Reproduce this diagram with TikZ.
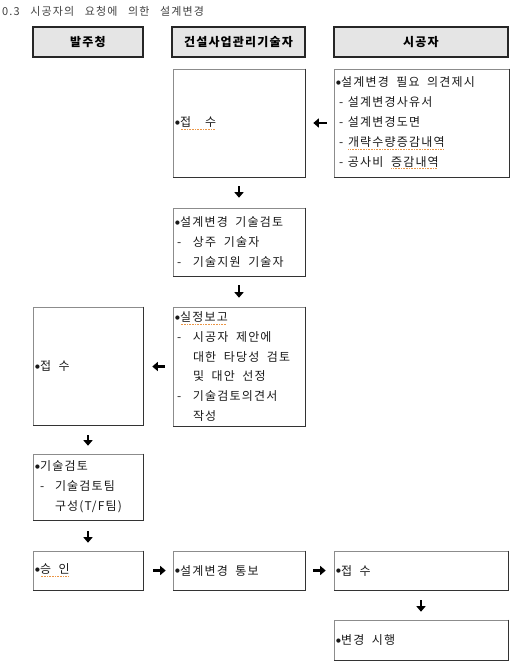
\documentclass[tikz,border=0pt]{standalone}
\usepackage{fontspec}
\usetikzlibrary{arrows.meta}
\newfontfamily\kr[WordSpace=3,LetterSpace=10]{Noto Sans CJK KR}
\newfontfamily\dv{DejaVu Sans}
\definecolor{sqc}{RGB}{235,150,70}
\newcommand\boxfont{\kr\fontsize{12}{19.8}\selectfont}
\newcommand\ws{\hspace{7.5pt}}
\newcommand\bu{\raisebox{2.2pt}{\dv\fontsize{5.5}{6}\selectfont●}\kern0.3pt}
\newcommand\sq[1]{\setbox0\hbox{#1}\rlap{\raisebox{-3pt}{\textcolor{sqc}{\leaders\hbox to 1.6pt{\hss\rule{0.7pt}{0.7pt}\hss}\hskip\wd0}}}\box0}
\newcommand\dlA[1]{\makebox[12pt][l]{\hspace{3pt}-}#1}
\newcommand\dlB[1]{\makebox[18pt][l]{\hspace{2pt}-}#1}
\newcommand\clB[1]{\hspace*{18pt}#1}
\newcommand\dlC[1]{\makebox[20pt][l]{\hspace{5pt}-}#1}
\newcommand\clC[1]{\hspace*{20pt}#1}
\begin{document}
\begin{tikzpicture}[x=1pt,y=-1pt,
  hdr/.style={draw=black!85,line width=1.3pt,fill=black!10,minimum width=#1,minimum height=30pt,inner sep=0pt,
    font=\kr\bfseries\fontsize{12}{14}\selectfont},
  bx/.style={draw=black!45,line width=0.6pt,minimum width=#1,text width=#1-4pt,inner xsep=2pt,inner ysep=0pt,align=left,
    font=\boxfont,text=black!90},
  shd/.style={draw=black!80,line width=1.2pt},
  arr/.style={line width=2.3pt,-{Triangle[length=5.5pt,width=9pt]}}]
\useasboundingbox (0,0) rectangle (523,669);
\node[anchor=west,font=\kr\fontsize{11}{13}\selectfont,text=black!75,inner sep=0pt] (title) at (2,11) {0.3 시공자의 요청에 의한 설계변경};
\node[hdr=110pt] (h1) at (88,42) {발주청};
\node[hdr=133pt] (h2) at (238.5,42) {건설사업관리기술자};
\node[hdr=174pt] (h3) at (421,42) {시공자};

\node[bx=132pt,minimum height=108pt] (A) at (239,123) {\bu\sq{접\hspace{14pt}수}};
\node[bx=175pt,minimum height=108pt] (B) at (421.5,123) {\bu 설계변경\ws{}필요\ws{}의견제시\\
  \dlA{설계변경사유서}\\
  \dlA{설계변경도면}\\
  \dlA{\sq{개략수량증감내역}}\\
  \dlA{공사비\ws{}\sq{증감내역}}};
\node[bx=132pt,minimum height=68pt] (C) at (239,242) {\bu 설계변경\ws{}기술검토\\
  \dlB{상주\ws{}기술자}\\
  \dlB{기술지원\ws{}기술자}};
\node[bx=132pt,minimum height=119pt] (D) at (239,366.5) {\bu\sq{실정보고}\\
  \dlB{시공자\ws{}제안에}\\
  \clB{대한\ws{}타당성\ws{}검토}\\
  \clB{및\ws{}대안\ws{}선정}\\
  \dlB{기술검토의견서}\\
  \clB{작성}};
\node[bx=110pt,minimum height=118pt] (E) at (88,366) {\bu 접\ws{}수};
\node[bx=110pt,minimum height=66pt] (F) at (88,487) {\bu 기술검토\\
  \dlC{기술검토팀}\\
  \clC{구성(T/F팀)}};
\node[bx=110pt,minimum height=39pt] (G) at (88,570.5) {\bu\sq{승\ws{}인}};
\node[bx=132pt,minimum height=39pt] (H) at (239,570.5) {\bu 설계변경\ws{}통보};
\node[bx=174pt,minimum height=39pt] (I) at (421,570.5) {\bu 접\ws{}수};
\node[bx=174pt,minimum height=40pt] (J) at (421,640) {\bu 변경\ws{}시행};

\foreach \n in {A,B,C,D,E,F,G,H,I,J}
  \draw[shd] (\n.north east) -- (\n.south east) -- (\n.south west);

\draw[arr,shorten <=7pt,shorten >=8pt] (B.west) -- (B.west -| A.east);
\draw[arr,shorten <=9pt,shorten >=10pt] (A.south) -- (C.north);
\draw[arr,shorten <=9pt,shorten >=9pt] (C.south) -- (D.north);
\draw[arr,shorten <=8pt,shorten >=9pt] (D.west) -- (D.west -| E.east);
\draw[arr,shorten <=10pt,shorten >=8pt] (E.south) -- (F.north);
\draw[arr,shorten <=11pt,shorten >=8pt] (F.south) -- (G.north);
\draw[arr,shorten <=10pt,shorten >=7pt] (G.east) -- (H.west);
\draw[arr,shorten <=8pt,shorten >=8pt] (H.east) -- (I.west);
\draw[arr,shorten <=10pt,shorten >=8pt] (I.south) -- (J.north);
\end{tikzpicture}
\end{document}
